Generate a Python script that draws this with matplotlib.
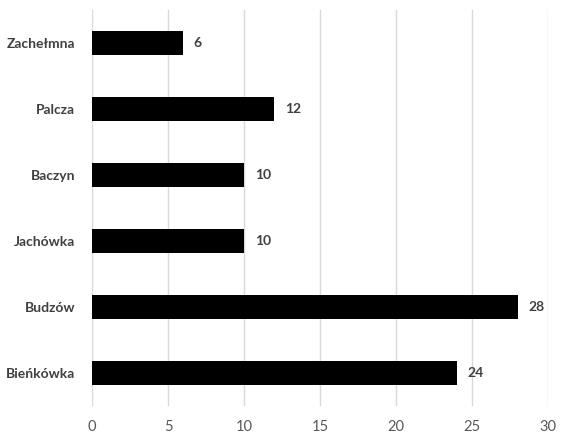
import matplotlib
matplotlib.use("Agg")
import matplotlib.pyplot as plt

categories = ["Bieńkówka", "Budzów", "Jachówka", "Baczyn", "Palcza", "Zachełmna"]
values = [24, 28, 10, 10, 12, 6]
xticks = [0, 5, 10, 15, 20, 25, 30]

plt.rcParams['font.family'] = ['Lato', 'DejaVu Sans']

fig = plt.figure(figsize=(5.66, 4.41), dpi=100)
ax = fig.add_axes([92/566, 1 - 406/441, (548 - 92)/566, (406 - 10)/441])

y = list(range(len(categories)))
ax.barh(y, values, height=0.36, color="black", zorder=3)
for yi, v in zip(y, values):
    ax.text(v + 0.7, yi, str(v), va="center", ha="left", fontsize=10,
            fontweight="bold", color="#404040")

ax.set_xlim(0, 30)
ax.set_ylim(-0.5, len(categories) - 0.5)
ax.set_xticks(xticks)
ax.set_xticklabels([str(t) for t in xticks], fontsize=10.5, color="#595959")
ax.set_yticks(y)
ax.set_yticklabels(categories, fontsize=10, fontweight="bold", color="#404040")
ax.tick_params(axis="both", length=0)
ax.tick_params(axis="x", pad=10)
ax.tick_params(axis="y", pad=12)
ax.grid(axis="x", color="#d9d9d9", linewidth=1, zorder=0)
for s in ax.spines.values():
    s.set_visible(False)

fig.savefig("out.png", dpi=100, facecolor="white")
